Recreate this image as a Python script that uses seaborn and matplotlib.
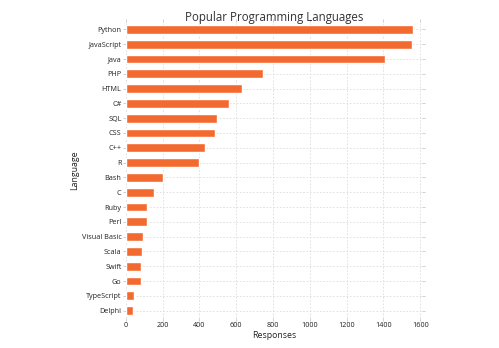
import matplotlib
matplotlib.use("Agg")
import matplotlib.pyplot as plt
import seaborn as sns
import pandas as pd

languages = ["Python", "JavaScript", "Java", "PHP", "HTML", "C#", "SQL", "CSS",
             "C++", "R", "Bash", "C", "Ruby", "Perl", "Visual Basic", "Scala",
             "Swift", "Go", "TypeScript", "Delphi"]
responses = [1560, 1553, 1409, 748, 633, 562, 494, 483,
             429, 396, 203, 151, 118, 114, 94, 89,
             85, 82, 47, 42]
x_ticks = [0, 200, 400, 600, 800, 1000, 1200, 1400, 1600]

sns.set_theme(style="white")
plt.rcParams["font.family"] = ["Open Sans", "DejaVu Sans"]

df = pd.DataFrame({"Language": languages, "Responses": responses})

fig = plt.figure(figsize=(4.99, 3.48), dpi=100)
ax = fig.add_axes([0.252, 0.086, 0.594, 0.851])

sns.barplot(data=df, x="Responses", y="Language", color="#f36a30",
            saturation=1, width=0.6, ax=ax, zorder=3)

ax.set_xlim(0, 1610)
ax.set_xticks(x_ticks)
ax.grid(True, color="#dcdcdc", linestyle=(0, (2, 2)), linewidth=0.6, zorder=0)
for s in ax.spines.values():
    s.set_visible(False)
ax.tick_params(axis="both", labelsize=5.2, colors="#222222", length=2,
               width=0.5, pad=1, top=True, right=True, bottom=True, left=True,
               color="#bbbbbb")
ax.set_title("Popular Programming Languages", fontsize=8.3, color="#333333",
             pad=1, fontweight="medium")
ax.set_xlabel("Responses", fontsize=6.3, color="#222222", labelpad=1)
ax.set_ylabel("Language", fontsize=6.3, color="#222222", labelpad=1.5)

fig.savefig("out.png", dpi=100, facecolor="white")
